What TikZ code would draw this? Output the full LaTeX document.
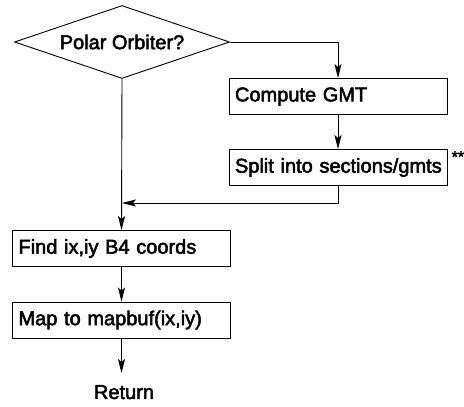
\documentclass[tikz,border=0pt]{standalone}
\usepackage{fontspec}
\setmainfont[FakeBold=2.5]{Liberation Sans}
\usetikzlibrary{shapes.geometric,arrows.meta}
\begin{document}
\begin{tikzpicture}[x=1pt,y=-1pt,
  every node/.style={font=\fontsize{20}{24}\selectfont},
  procbox/.style={draw, rectangle, line width=0.9pt, minimum width=218pt, minimum height=36pt,
     text width=206pt, inner xsep=6pt, inner ysep=0pt, align=left},
  conn/.style={line width=0.9pt},
  arr/.style={conn, -{Stealth[length=14pt,width=7pt,inset=3pt]}}]
\useasboundingbox (0,0) rectangle (464,407);
\node[draw, diamond, line width=0.9pt, shape aspect=3, minimum width=215pt, minimum height=73pt, inner sep=0pt] (d) at (122,42) {Polar Orbiter?};
\node[procbox] (c) at (338,96.5) {Compute GMT};
\node[procbox] (s) at (338,167.5) {\mbox{Split into sections/gmts}};
\node[anchor=north west, inner sep=0pt, font=\fontsize{16}{18}\selectfont] (ast) at ([xshift=4pt,yshift=-2pt]s.north east) {**};
\node[procbox] (f) at (121.5,248.5) {Find ix,iy B4 coords};
\node[procbox] (m) at (121.5,320) {Map to mapbuf(ix,iy)};
\node[inner sep=0pt, anchor=north] (r) at (124,385) {Return};
\coordinate (j) at (122,203);
\draw[arr] (d.east) -| (c.north);
\draw[arr] (c.south) -- (s.north);
\draw[arr] (s.south) |- (j);
\draw[arr] (d.south) -- (f.north);
\draw[arr] (f.south) -- (m.north);
\draw[arr] (m.south) -- (m.south |- 0,373);
\end{tikzpicture}
\end{document}
